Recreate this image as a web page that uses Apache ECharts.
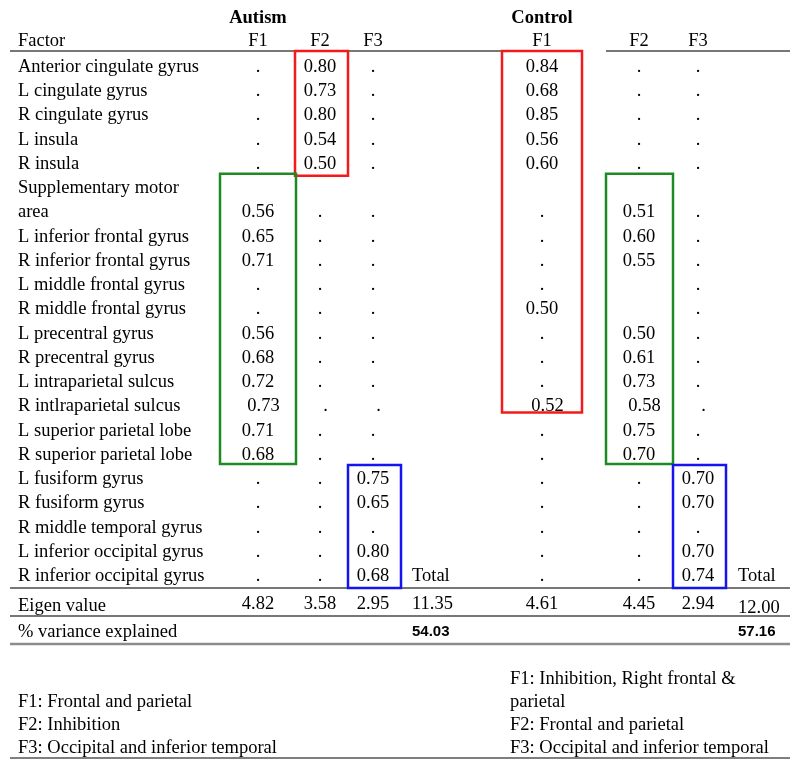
<!DOCTYPE html>
<html><head><meta charset="utf-8">
<script src="https://cdn.jsdelivr.net/npm/echarts@6/dist/echarts.min.js"></script>
<style>html,body{margin:0;padding:0;background:#fff}#c{width:800px;height:768px}</style>
</head><body><div id="c"></div>
<script>
// ---------------- data ----------------
const groups = ['Autism', 'Control'];
const factorHeader = 'Factor';
const factors = ['F1', 'F2', 'F3'];
const regions = [
  'Anterior cingulate gyrus', 'L cingulate gyrus', 'R cingulate gyrus', 'L insula', 'R insula',
  'Supplementary motor\narea', 'L inferior frontal gyrus', 'R inferior frontal gyrus',
  'L middle frontal gyrus', 'R middle frontal gyrus', 'L precentral gyrus', 'R precentral gyrus',
  'L intraparietal sulcus', 'R intlraparietal sulcus', 'L superior parietal lobe', 'R superior parietal lobe',
  'L fusiform gyrus', 'R fusiform gyrus', 'R middle temporal gyrus', 'L inferior occipital gyrus', 'R inferior occipital gyrus'
];
// '.' = loading not shown, '' = empty cell
const autismF1 = ['.', '.', '.', '.', '.', 0.56, 0.65, 0.71, '.', '.', 0.56, 0.68, 0.72, 0.73, 0.71, 0.68, '.', '.', '.', '.', '.'];
const autismF2 = [0.80, 0.73, 0.80, 0.54, 0.50, '.', '.', '.', '.', '.', '.', '.', '.', '.', '.', '.', '.', '.', '.', '.', '.'];
const autismF3 = ['.', '.', '.', '.', '.', '.', '.', '.', '.', '.', '.', '.', '.', '.', '.', '.', 0.75, 0.65, '.', 0.80, 0.68];
const controlF1 = [0.84, 0.68, 0.85, 0.56, 0.60, '.', '.', '.', '.', 0.50, '.', '.', '.', 0.52, '.', '.', '.', '.', '.', '.', '.'];
const controlF2 = ['.', '.', '.', '.', '.', 0.51, 0.60, 0.55, '', '', 0.50, 0.61, 0.73, 0.58, 0.75, 0.70, '.', '.', '.', '.', '.'];
const controlF3 = ['.', '.', '.', '.', '.', '.', '.', '.', '.', '.', '.', '.', '.', '.', '.', '.', 0.70, 0.70, '.', 0.70, 0.74];
const totalLabel = 'Total';
const eigenLabel = 'Eigen value';
const varianceLabel = '% variance explained';
const autismEigen = [4.82, 3.58, 2.95];
const autismEigenTotal = 11.35;
const controlEigen = [4.61, 4.45, 2.94];
const controlEigenTotal = 12.00;
const autismVariance = 54.03;
const controlVariance = 57.16;
const autismNotes = ['F1: Frontal and parietal', 'F2: Inhibition', 'F3: Occipital and inferior temporal'];
const controlNotes = ['F1: Inhibition, Right frontal &\nparietal', 'F2: Frontal and parietal', 'F3: Occipital and inferior temporal'];

// ---------------- layout ----------------
const W = 800;
const colX = { label: 18, aF: [258, 320, 373], aTotal: 412, cF: [542, 639, 698], cTotal: 738, noteA: 18, noteC: 510 };
const rowShiftX = { 13: 5.5 };
const TEXT_DY = 2;
const fontStyles = {
  serif: { fontFamily: '"Liberation Serif", "Times New Roman", serif', fontSize: 18.5, fontWeight: 'normal' },
  bold: { fontFamily: '"Liberation Serif", "Times New Roman", serif', fontSize: 18.5, fontWeight: 'bold' },
  sans: { fontFamily: '"Liberation Sans", Arial, sans-serif', fontSize: 15, fontWeight: 'bold' }
};

// body lines (wrapped labels take several lines; values sit on the last)
const bodyLines = [], valueSlot = [];
regions.forEach(name => {
  name.split('\n').forEach(p => bodyLines.push(p));
  valueSlot.push(bodyLines.length - 1);
});
const nBody = bodyLines.length;
const nNotes = 4;

const grids = [
  { left: 0, right: 0, top: 4, height: 47 },
  { left: 0, right: 0, top: 53, height: 24.24 * nBody },
  { left: 0, right: 0, top: 588, height: 56 },
  { left: 0, right: 0, top: 666, height: 92 }
];
const slotCounts = [2, nBody, 2, nNotes];

// ---------------- text items ----------------
const T = [[], [], [], []];
const fmt = v => typeof v === 'number' ? v.toFixed(2) : v;
T[0].push({ x: colX.aF[0], row: 0, text: groups[0], align: 'center', font: 'bold' });
T[0].push({ x: colX.cF[0], row: 0, text: groups[1], align: 'center', font: 'bold' });
T[0].push({ x: colX.label, row: 1, text: factorHeader, align: 'left' });
factors.forEach((f, k) => {
  T[0].push({ x: colX.aF[k], row: 1, text: f, align: 'center' });
  T[0].push({ x: colX.cF[k], row: 1, text: f, align: 'center' });
});
bodyLines.forEach((t, s) => T[1].push({ x: colX.label, row: s, text: t, align: 'left' }));
[[autismF1, colX.aF[0]], [autismF2, colX.aF[1]], [autismF3, colX.aF[2]],
 [controlF1, colX.cF[0]], [controlF2, colX.cF[1]], [controlF3, colX.cF[2]]].forEach(([arr, x]) => {
  arr.forEach((v, i) => {
    if (v === '') return;
    T[1].push({ x: x + (rowShiftX[i] || 0), row: valueSlot[i], text: fmt(v), align: 'center' });
  });
});
T[1].push({ x: colX.aTotal, row: nBody - 1, text: totalLabel, align: 'left' });
T[1].push({ x: colX.cTotal, row: nBody - 1, text: totalLabel, align: 'left' });
T[2].push({ x: colX.label, row: 0, text: eigenLabel, align: 'left', dy: 2 });
autismEigen.forEach((v, k) => T[2].push({ x: colX.aF[k], row: 0, text: fmt(v), align: 'center' }));
controlEigen.forEach((v, k) => T[2].push({ x: colX.cF[k], row: 0, text: fmt(v), align: 'center' }));
T[2].push({ x: colX.aTotal, row: 0, text: fmt(autismEigenTotal), align: 'left' });
T[2].push({ x: colX.cTotal, row: 0, text: fmt(controlEigenTotal), align: 'left', dy: 4 });
T[2].push({ x: colX.label, row: 1, text: varianceLabel, align: 'left' });
T[2].push({ x: colX.aTotal, row: 1, text: fmt(autismVariance), align: 'left', font: 'sans' });
T[2].push({ x: colX.cTotal, row: 1, text: fmt(controlVariance), align: 'left', font: 'sans' });
function placeNotes(arr, x) {
  const lines = arr.flatMap(t => t.split('\n'));
  lines.forEach((t, j) => T[3].push({ x, row: nNotes - lines.length + j, text: t, align: 'left' }));
}
placeNotes(autismNotes, colX.noteA);
placeNotes(controlNotes, colX.noteC);

// ---------------- rules & boxes ----------------
const rules = [
  { g: 0, edge: 2, x0: 10, x1: 582, color: '#4a4a4a', width: 1.5 },
  { g: 0, edge: 2, x0: 606, x1: 790, color: '#4a4a4a', width: 1.5 },
  { g: 2, edge: 0, x0: 10, x1: 790, color: '#4a4a4a', width: 1.5 },
  { g: 2, edge: 1, x0: 10, x1: 790, color: '#4a4a4a', width: 1.5 },
  { g: 2, edge: 2, x0: 10, x1: 790, color: '#8c8c8c', width: 2.5 },
  { g: 3, edge: 4, x0: 10, x1: 790, color: '#555555', width: 1.5 }
];
const RED = '#f21a1a', GREEN = '#1f8a23', BLUE = '#1414ee';
const boxes = [
  { x0: 295, x1: 348, s0: 0, s1: 4, color: RED, extTop: 2, extBottom: 1.5 },
  { x0: 220, x1: 296, s0: 5, s1: 16, color: GREEN, extTop: 0.5, extBottom: -1 },
  { x0: 348, x1: 401, s0: 17, s1: 21, color: BLUE, extTop: 0, extBottom: 1.7 },
  { x0: 502, x1: 582, s0: 0, s1: 14, color: RED, extTop: 2, extBottom: -4 },
  { x0: 606, x1: 673, s0: 5, s1: 16, color: GREEN, extTop: 0.5, extBottom: -1 },
  { x0: 673, x1: 726, s0: 17, s1: 21, color: BLUE, extTop: 0, extBottom: 1.7 }
];

// ---------------- series ----------------
const series = [];
T.forEach((items, gi) => {
  series.push({
    type: 'custom', xAxisIndex: gi, yAxisIndex: gi, silent: true, clip: false,
    data: items.map(it => [it.x, it.row]),
    renderItem: (params, api) => {
      const it = items[params.dataIndex];
      const p = api.coord([api.value(0), api.value(1)]);
      const f = fontStyles[it.font || 'serif'];
      return { type: 'text', x: p[0], y: p[1] + TEXT_DY + (it.dy || 0), style: {
        text: it.text, fill: '#000', align: it.align, verticalAlign: 'middle',
        fontFamily: f.fontFamily, fontSize: f.fontSize, fontWeight: f.fontWeight } };
    }
  });
});
[0, 2, 3].forEach(gi => {
  const rs = rules.filter(r => r.g === gi);
  series.push({
    type: 'custom', xAxisIndex: gi, yAxisIndex: gi, silent: true, clip: false,
    data: rs.map(r => [r.x0, 0]),
    renderItem: (params, api) => {
      const r = rs[params.dataIndex];
      const cs = params.coordSys;
      const y = cs.y + cs.height * r.edge / slotCounts[gi];
      const xa = api.coord([r.x0, 0])[0], xb = api.coord([r.x1, 0])[0];
      return { type: 'line', shape: { x1: xa, y1: y, x2: xb, y2: y }, style: { stroke: r.color, lineWidth: r.width } };
    }
  });
});
series.push({
  type: 'custom', xAxisIndex: 1, yAxisIndex: 1, silent: true, clip: false,
  data: boxes.map(b => [b.x0, b.s0]),
  renderItem: (params, api) => {
    const b = boxes[params.dataIndex];
    const cs = params.coordSys;
    const band = cs.height / nBody;
    const y0 = cs.y + band * b.s0 - b.extTop;
    const y1 = cs.y + band * (b.s1 + 1) + b.extBottom;
    const xa = api.coord([b.x0, 0])[0], xb = api.coord([b.x1, 0])[0];
    return { type: 'rect', shape: { x: xa, y: y0, width: xb - xa, height: y1 - y0 },
      style: { fill: 'none', stroke: b.color, lineWidth: 2.5 } };
  }
});

const chart = echarts.init(document.getElementById('c'), null, { renderer: 'canvas' });
chart.setOption({
  animation: false,
  backgroundColor: '#fff',
  grid: grids,
  xAxis: grids.map((g, i) => ({ type: 'value', gridIndex: i, min: 0, max: W, show: false })),
  yAxis: grids.map((g, i) => ({ type: 'category', gridIndex: i, inverse: true, show: false,
    data: Array.from({ length: slotCounts[i] }, (_, k) => String(k)) })),
  series
});
</script></body></html>
